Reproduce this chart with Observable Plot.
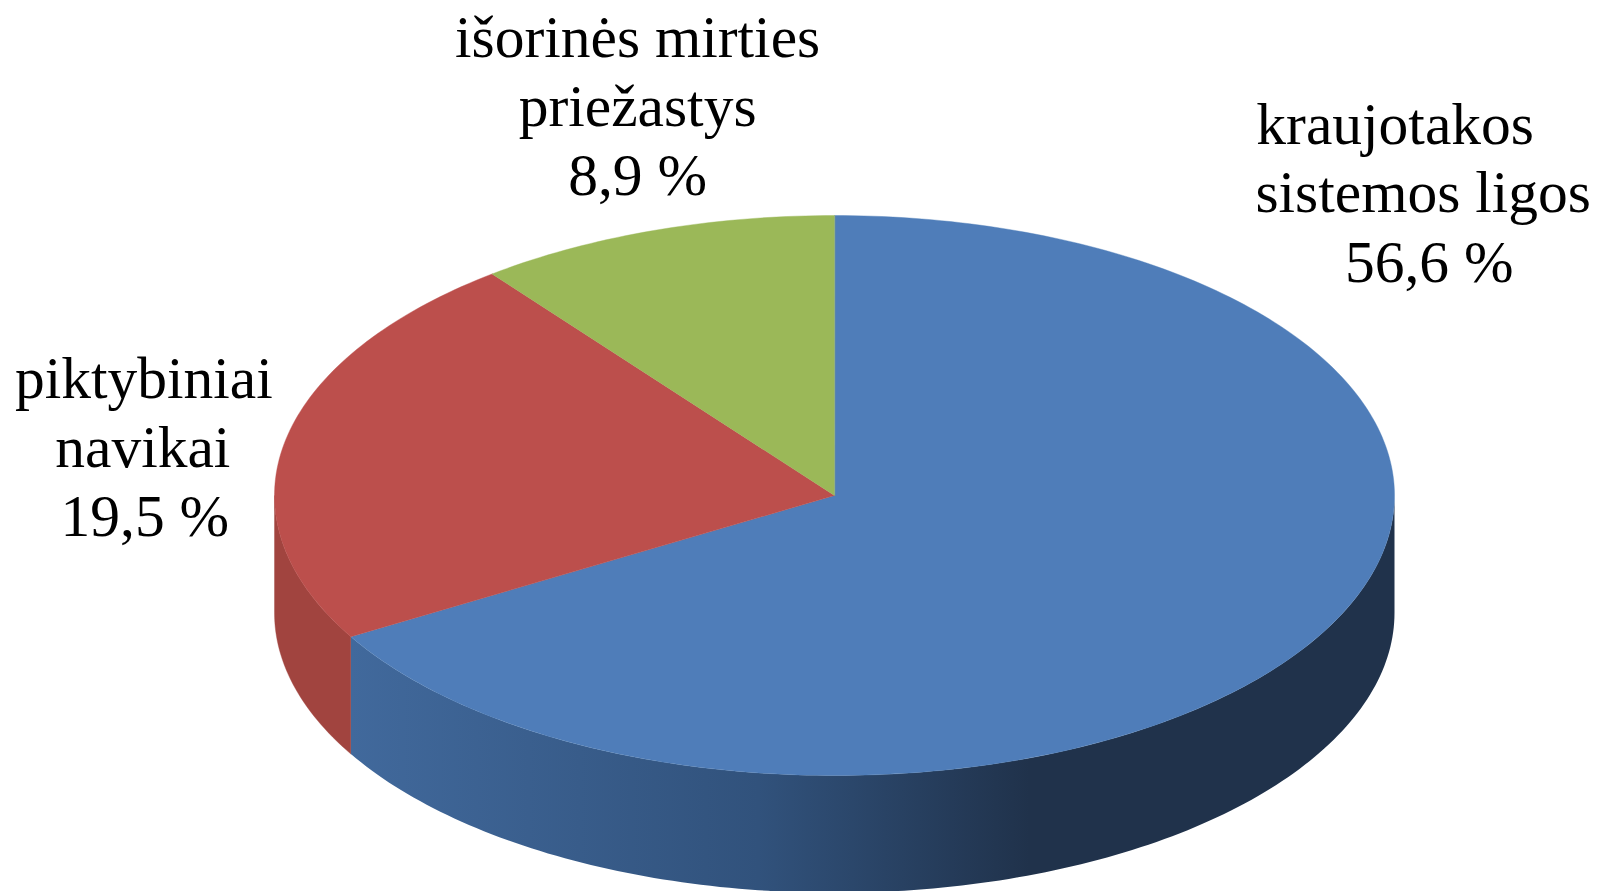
<!DOCTYPE html>
<html lang="lt">
<head>
<meta charset="utf-8">
<title>Mirties priežastys</title>
<script src="https://cdn.jsdelivr.net/npm/d3@7"></script>
<script src="https://cdn.jsdelivr.net/npm/@observablehq/plot@0.6"></script>
<style>
  html, body { margin: 0; padding: 0; background: #fff; overflow: hidden; }
  svg { display: block; }
</style>
</head>
<body>
<div id="chart"></div>
<script>
// Data
const causes = ["kraujotakos sistemos ligos", "piktybiniai navikai", "išorinės mirties priežastys"];
const shares = [56.6, 19.5, 8.9];
const labelLines = [
  ["kraujotakos", "sistemos ligos", "56,6 %"],
  ["piktybiniai", "navikai", "19,5 %"],
  ["išorinės mirties", "priežastys", "8,9 %"]
];

// Styles and layout
const topColors = ["#4f7db9", "#bc4f4c", "#9bb858"];
const redWall = "#a1443f";
const wallStops = [[0, "#41699c"], [0.39, "#31527c"], [0.65, "#20324b"], [1, "#20324b"]];
const depth = 0.419;           // wall height, in units of the ellipse's vertical radius
const labelOffsets = [
  [[75, -510], [103, -442], [109, -372]],
  [[-141, -63], [-142, 6], [-140, 75]],
  [[-16, -193], [-16, -124], [-16, -55]]
];

// Pie geometry: angles run clockwise from 12 o'clock
const total = d3.sum(shares);
let acc = 0;
const slices = shares.map((v, i) => {
  const start = acc / total * 360;
  acc += v;
  return {cause: causes[i], start, end: acc / total * 360, color: topColors[i], lines: labelLines[i], offsets: labelOffsets[i]};
});
const pt = (deg, drop = 0) => {
  const r = deg * Math.PI / 180;
  return {x: Math.sin(r), y: Math.cos(r) - drop};
};
const arc = (a, b, drop = 0) => {
  const n = Math.max(2, Math.ceil(Math.abs(b - a)));
  return d3.range(n + 1).map((k) => pt(a + (b - a) * k / n, drop));
};
const wedge = (s) => [{x: 0, y: 0}, ...arc(s.start, s.end)];
const wall = (a, b) => [...arc(a, b), ...arc(b, a, depth)];

const gradient = () => {
  const defs = d3.create("svg:defs");
  const g = defs.append("linearGradient").attr("id", "blueWall")
    .attr("x1", 0).attr("x2", 1).attr("y1", 0).attr("y2", 0);
  wallStops.forEach(([o, c]) => g.append("stop").attr("offset", o).attr("stop-color", c));
  return defs.node();
};

const shape = (points, fill) =>
  Plot.line(points, {x: "x", y: "y", fill, stroke: fill === "url(#blueWall)" ? "none" : fill, strokeWidth: 0.4, curve: "linear-closed"});

const labelMarks = slices.flatMap((s) => {
  const mid = pt((s.start + s.end) / 2);
  return s.lines.map((line, i) =>
    Plot.text([line], {
      x: () => mid.x, y: () => mid.y, text: (d) => d,
      dx: s.offsets[i][0], dy: s.offsets[i][1],
      fontFamily: "Liberation Serif", fontSize: 59.5, fill: "#000", textAnchor: "middle", lineAnchor: "middle"
    }));
});

const chart = Plot.plot({
  width: 1601,
  height: 891,
  margin: 0,
  style: {background: "#fff"},
  x: {axis: null, domain: [-1, 1], range: [274, 1394]},
  y: {axis: null, domain: [-1, 1], range: [775, 215]},
  marks: [
    gradient,
    shape(wall(slices[0].end, 270), redWall),
    shape(wall(90, slices[0].end), "url(#blueWall)"),
    ...slices.map((s) => shape(wedge(s), s.color)),
    ...labelMarks
  ]
});
document.getElementById("chart").append(chart);
</script>
</body>
</html>
